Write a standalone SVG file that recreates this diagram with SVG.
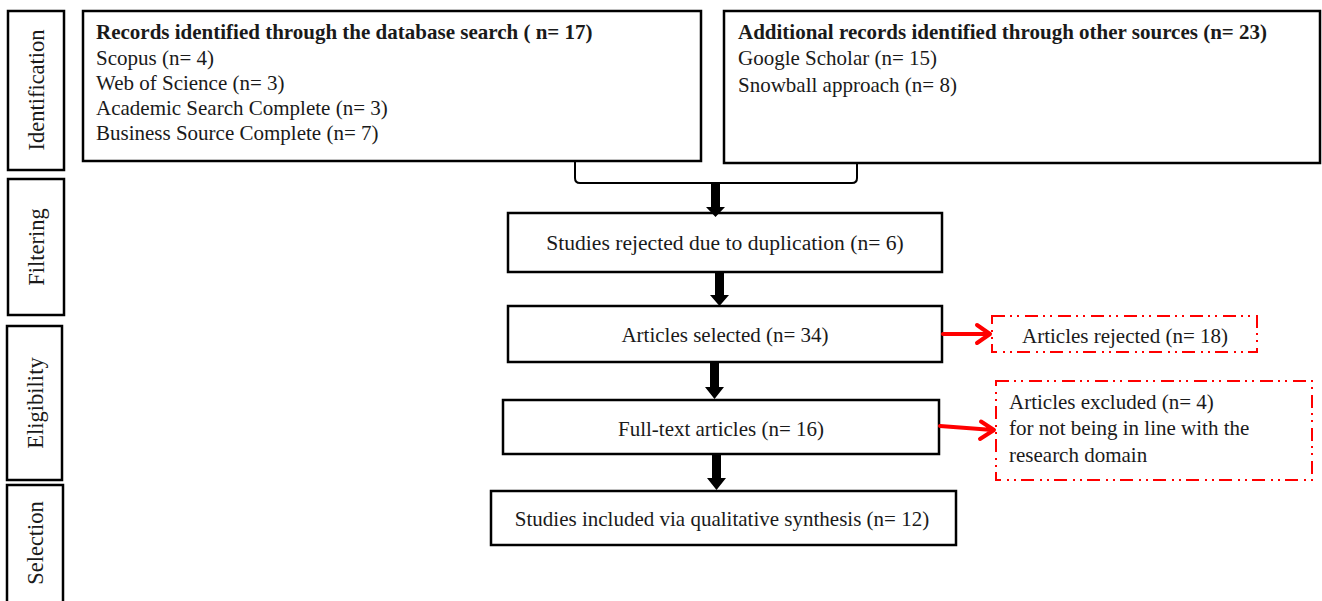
<svg xmlns="http://www.w3.org/2000/svg" width="1322" height="601" viewBox="0 0 1322 601">
<style>
.box{fill:#fff;stroke:#000;stroke-width:2.5}
.rbox{fill:#fff;stroke:#f00;stroke-width:2;stroke-dasharray:13 5 2 5 2 6}
text{font-family:"Liberation Serif","Times New Roman",serif;font-size:21px;fill:#1a1a1a}
.b{font-weight:bold}
.c{text-anchor:middle}
.side{text-anchor:middle;font-size:22.5px}
.blk{fill:#000}
.red{stroke:#f00;stroke-width:4;fill:none;stroke-linecap:round;stroke-linejoin:round}
.brk{fill:none;stroke:#000;stroke-width:2}
</style>
<rect width="1322" height="601" fill="#fff"/>
<g id="stage-identification"><rect class="box" x="8" y="11" width="56" height="159"/><text class="side" transform="translate(44,90) rotate(-90)">Identification</text></g>
<g id="stage-filtering"><rect class="box" x="8" y="179" width="56" height="136"/><text class="side" transform="translate(44,247) rotate(-90)">Filtering</text></g>
<g id="stage-eligibility"><rect class="box" x="7" y="326" width="55" height="154"/><text class="side" transform="translate(43,403) rotate(-90)">Eligibility</text></g>
<g id="stage-selection"><rect class="box" x="7" y="485" width="56" height="120"/><text class="side" transform="translate(43,543) rotate(-90)">Selection</text></g>
<g id="database"><rect class="box" x="83" y="11" width="618" height="150"/>
<text class="b" x="96" y="39">Records identified through the database search ( n= 17)</text>
<text x="96" y="65">Scopus (n= 4)</text>
<text x="96" y="90">Web of Science (n= 3)</text>
<text x="96" y="115">Academic Search Complete (n= 3)</text>
<text x="96" y="140">Business Source Complete (n= 7)</text></g>
<g id="other"><rect class="box" x="724" y="11" width="596" height="152"/>
<text class="b" x="738" y="39">Additional records identified through other sources (n= 23)</text>
<text x="738" y="65">Google Scholar (n= 15)</text>
<text x="738" y="92">Snowball approach (n= 8)</text></g>
<g id="duplication"><rect class="box" x="508" y="213" width="434" height="59"/><text class="c" x="725" y="250" style="font-size:21.6px">Studies rejected due to duplication (n= 6)</text></g>
<g id="selected"><rect class="box" x="508" y="306" width="434" height="56"/><text class="c" x="725" y="342">Articles selected (n= 34)</text></g>
<g id="fulltext"><rect class="box" x="503" y="400" width="436" height="54"/><text class="c" x="721" y="436">Full-text articles (n= 16)</text></g>
<g id="included"><rect class="box" x="491" y="491" width="465" height="54"/><text class="c" x="722" y="526">Studies included via qualitative synthesis (n= 12)</text></g>
<g id="rejected"><rect class="rbox" x="992" y="316" width="265" height="36"/><text class="c" x="1125" y="343">Articles rejected (n= 18)</text></g>
<g id="excluded"><rect class="rbox" x="996" y="381" width="316" height="99"/>
<text x="1009" y="409">Articles excluded (n= 4)</text>
<text x="1009" y="435">for not being in line with the</text>
<text x="1009" y="462">research domain</text></g>
<g id="connectors">
<path class="brk" d="M575,162 V178 Q575,183 580,183 H852 Q857,183 857,178 V163"/>
<polygon class="blk" points="711,183 720,183 720,207 725,207 715.5,217 706,207 711,207"/>
<polygon class="blk" points="715,273 724,273 724,295 729,295 719.5,306 710,295 715,295"/>
<polygon class="blk" points="710,362 719,362 719,387 724,387 714.5,399 705,387 710,387"/>
<polygon class="blk" points="712,455 721,455 721,478 726,478 716.5,490 707,478 712,478"/>
<path class="red" d="M943,334 H989 M977,325 L990,334 L977,343"/>
<path class="red" d="M940,426 L993,430 M981,421.5 L994,430 L980,439"/>
</g>
</svg>
